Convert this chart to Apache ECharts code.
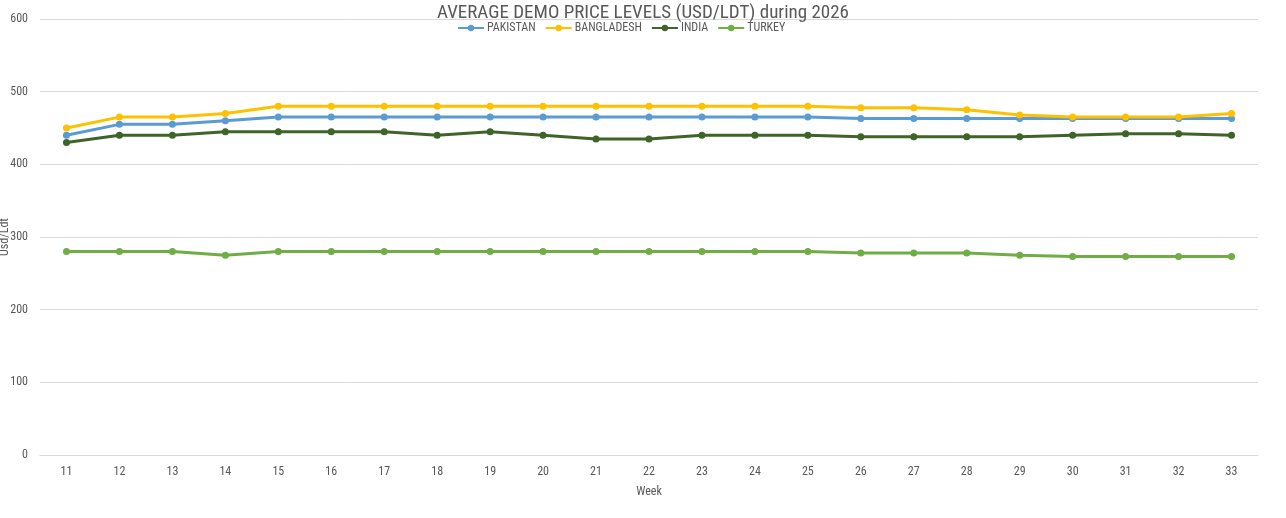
<!DOCTYPE html>
<html>
<head>
<meta charset="utf-8">
<script src="https://cdn.jsdelivr.net/npm/echarts@6/dist/echarts.min.js"></script>
<style>
  html, body { margin: 0; padding: 0; background: #fff; }
  #chart { width: 1286px; height: 518px; }
</style>
</head>
<body>
<div id="chart"></div>
<script>
// weeks on the x axis
const weeks = ["11", "12", "13", "14", "15", "16", "17", "18", "19", "20", "21", "22",
  "23", "24", "25", "26", "27", "28", "29", "30", "31", "32", "33"];

// USD/LDT per country
const pakistan = [440, 455, 455, 460, 465, 465, 465, 465, 465, 465, 465, 465,
  465, 465, 465, 463, 463, 463, 463, 463, 463, 463, 463];
const bangladesh = [450, 465, 465, 470, 480, 480, 480, 480, 480, 480, 480, 480,
  480, 480, 480, 478, 478, 475, 468, 465, 465, 465, 470];
const india = [430, 440, 440, 445, 445, 445, 445, 440, 445, 440, 435, 435,
  440, 440, 440, 438, 438, 438, 438, 440, 442, 442, 440];
const turkey = [280, 280, 280, 275, 280, 280, 280, 280, 280, 280, 280, 280,
  280, 280, 280, 278, 278, 278, 275, 273, 273, 273, 273];

const font = "'Liberation Sans Narrow', 'Roboto Condensed', 'DejaVu Sans Condensed', sans-serif";
const textGrey = "#595959";

function line(name, data, color) {
  return {
    name: name,
    type: "line",
    data: data,
    symbol: "circle",
    symbolSize: 7,
    lineStyle: { color: color, width: 3 },
    itemStyle: { color: color },
  };
}

const myChart = echarts.init(document.getElementById("chart"));
myChart.setOption({
  animation: false,
  title: {
    text: "AVERAGE DEMO PRICE LEVELS (USD/LDT) during 2026",
    left: "center",
    top: -1,
    textStyle: { fontFamily: font, fontSize: 19, fontWeight: "normal", color: textGrey },
  },
  legend: {
    top: 17,
    left: 452,
    itemWidth: 26,
    itemHeight: 8,
    itemGap: 9,
    textStyle: { fontFamily: font, fontSize: 12, color: textGrey, padding: [0, 0, 0, -2] },
    data: ["PAKISTAN", "BANGLADESH", "INDIA", "TURKEY"],
  },
  // y axis title, drawn here so it sits at the far left edge
  graphic: [{
    type: "text",
    x: 5,
    y: 237,
    rotation: Math.PI / 2,
    style: {
      text: "Usd/Ldt",
      fontFamily: font,
      fontSize: 12,
      fill: textGrey,
      align: "center",
      verticalAlign: "middle",
    },
  }],
  grid: { left: 40, right: 28, top: 19, bottom: 63, outerBoundsMode: "none", containLabel: false },
  xAxis: {
    type: "category",
    data: weeks,
    boundaryGap: true,
    name: "Week",
    nameLocation: "middle",
    nameGap: 31,
    nameTextStyle: { fontFamily: font, fontSize: 12, color: textGrey },
    axisLine: { show: true, lineStyle: { color: "#D9D9D9" } },
    axisTick: { show: false },
    axisLabel: { fontFamily: font, fontSize: 12, color: textGrey, margin: 11 },
  },
  yAxis: {
    type: "value",
    min: 0,
    max: 600,
    interval: 100,
    axisLine: { show: false },
    axisTick: { show: false },
    axisLabel: { fontFamily: font, fontSize: 12, color: textGrey, margin: 12 },
    splitLine: { lineStyle: { color: "#D9D9D9", width: 1 } },
  },
  series: [
    line("PAKISTAN", pakistan, "#5B9BD5"),
    line("BANGLADESH", bangladesh, "#FFC000"),
    line("INDIA", india, "#3F6428"),
    line("TURKEY", turkey, "#70AD47"),
  ],
});
</script>
</body>
</html>
